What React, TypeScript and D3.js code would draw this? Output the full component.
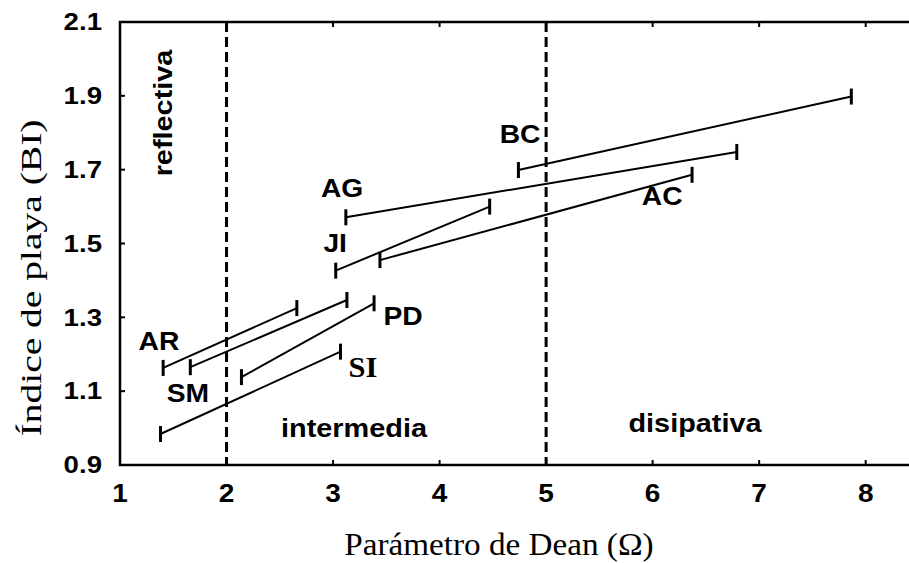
import React, { useEffect, useRef } from "react";
import * as d3 from "d3";

// beach segments: start/end of Dean parameter and beach index
const beaches = ["AR", "SM", "PD", "SI", "JI", "AG", "AC", "BC"];
const deanStart = [1.405, 1.66, 2.14, 1.38, 3.025, 3.12, 3.44, 4.74];
const deanEnd = [2.66, 3.13, 3.385, 3.07, 4.47, 6.79, 6.37, 7.865];
const biStart = [1.163, 1.165, 1.138, 0.984, 1.4265, 1.571, 1.455, 1.699];
const biEnd = [1.325, 1.347, 1.338, 1.207, 1.6, 1.748, 1.686, 1.898];

// label anchor positions (baseline centre) in data units
const labelX = [1.366, 1.638, 3.657, 3.28, 3.02, 3.085, 6.09, 4.756];
const labelY = [1.2117, 1.0707, 1.279, 1.1385, 1.477, 1.626, 1.6046, 1.7726];

const xTicks = [1, 2, 3, 4, 5, 6, 7, 8];
const yTicks = [0.9, 1.1, 1.3, 1.5, 1.7, 1.9, 2.1];
const boundaries = [2, 5];

const W = 909;
const H = 563;

export default function App() {
  const svgRef = useRef<SVGSVGElement>(null);

  useEffect(() => {
    if (!svgRef.current) return;
    const svg = d3.select(svgRef.current);
    svg.selectAll("*").remove();

    const left = 120;
    const top = 22;
    const bottom = 465;
    const x = d3.scaleLinear().domain([1, 8]).range([left, 865.7]);
    const y = d3.scaleLinear().domain([0.9, 2.1]).range([bottom, top]);
    const right = W + 5;

    const bold = "Liberation Sans, Arial, sans-serif";
    const serif = "Liberation Serif, Times New Roman, serif";

    // the original figure is slightly stretched sideways
    const stretch = (sel: any, factor: number) => {
      sel.each(function (this: SVGTextElement) {
        const len = this.getComputedTextLength();
        d3.select(this)
          .attr("textLength", len * factor)
          .attr("lengthAdjust", "spacingAndGlyphs");
      });
    };

    // frame (left, top, bottom)
    svg.append("path")
      .attr("d", `M${right},${top}H${left}V${bottom}H${right}`)
      .attr("fill", "none")
      .attr("stroke", "#000")
      .attr("stroke-width", 2.5);

    // inner ticks
    const g = svg.append("g").attr("stroke", "#000").attr("stroke-width", 2);
    xTicks.forEach((t) => {
      g.append("line").attr("x1", x(t)).attr("x2", x(t)).attr("y1", bottom).attr("y2", bottom - 5);
      g.append("line").attr("x1", x(t)).attr("x2", x(t)).attr("y1", top).attr("y2", top + 5);
    });
    yTicks.forEach((t) => {
      g.append("line").attr("x1", left).attr("x2", left + 5).attr("y1", y(t)).attr("y2", y(t));
    });

    // tick labels
    const xl = svg.append("g")
      .selectAll("text")
      .data(xTicks)
      .join("text")
      .attr("x", (d) => x(d))
      .attr("y", 502)
      .attr("text-anchor", "middle")
      .attr("font-family", bold)
      .attr("font-weight", 700)
      .attr("font-size", 25)
      .text((d) => d);
    stretch(xl, 1.12);

    const yl = svg.append("g")
      .selectAll("text")
      .data(yTicks)
      .join("text")
      .attr("x", 102)
      .attr("y", (d) => y(d))
      .attr("dy", "0.36em")
      .attr("text-anchor", "end")
      .attr("font-family", bold)
      .attr("font-weight", 700)
      .attr("font-size", 23)
      .text((d) => d.toFixed(1));
    stretch(yl, 1.2);

    // regime boundaries
    svg.append("g")
      .selectAll("line")
      .data(boundaries)
      .join("line")
      .attr("x1", (d) => x(d))
      .attr("x2", (d) => x(d))
      .attr("y1", top)
      .attr("y2", bottom)
      .attr("stroke", "#000")
      .attr("stroke-width", 3)
      .attr("stroke-dasharray", "10,5");

    // segments with end caps
    const seg = svg.append("g").attr("stroke", "#000");
    beaches.forEach((_, i) => {
      const x0 = x(deanStart[i]);
      const x1 = x(deanEnd[i]);
      const y0 = y(biStart[i]);
      const y1 = y(biEnd[i]);
      seg.append("line")
        .attr("x1", x0).attr("y1", y0).attr("x2", x1).attr("y2", y1)
        .attr("stroke-width", 2);
      [[x0, y0], [x1, y1]].forEach(([cx, cy]) => {
        seg.append("line")
          .attr("x1", cx).attr("x2", cx)
          .attr("y1", cy - 8).attr("y2", cy + 8)
          .attr("stroke-width", 3);
      });
    });

    // beach labels
    beaches.forEach((name, i) => {
      const isSerif = name === "SI";
      const t = svg.append("text")
        .attr("x", x(labelX[i]))
        .attr("y", y(labelY[i]))
        .attr("text-anchor", "middle")
        .attr("font-family", isSerif ? serif : bold)
        .attr("font-weight", 700)
        .attr("font-size", isSerif ? 29 : 25)
        .text(name);
      stretch(t, isSerif ? 1.05 : 1.13);
    });

    // regime labels
    const reg = (label: string, tx: number, ty: number, rot: number) => {
      const t = svg.append("text")
        .attr("transform", `translate(${tx},${ty}) rotate(${rot})`)
        .attr("text-anchor", "middle")
        .attr("font-family", bold)
        .attr("font-weight", 700)
        .attr("font-size", 26)
        .text(label);
      stretch(t, 1.11);
    };
    reg("reflectiva", 172, 113, -90);
    reg("intermedia", 354, 437, 0);
    reg("disipativa", 695, 432, 0);

    // axis titles
    const xt = svg.append("text")
      .attr("x", 499)
      .attr("y", 555)
      .attr("text-anchor", "middle")
      .attr("font-family", serif)
      .attr("font-size", 31)
      .text("Parámetro de Dean (Ω)");
    stretch(xt, 1.07);
    const yt = svg.append("text")
      .attr("transform", `translate(41,278) rotate(-90)`)
      .attr("text-anchor", "middle")
      .attr("font-family", serif)
      .attr("font-size", 30)
      .text("Índice de playa (BI)")
      .attr("textLength", 317)
      .attr("lengthAdjust", "spacingAndGlyphs");
  }, []);

  return (
    <svg
      ref={svgRef}
      width={W}
      height={H}
      style={{ position: "absolute", left: 0, top: 0, background: "#fff" }}
    />
  );
}
